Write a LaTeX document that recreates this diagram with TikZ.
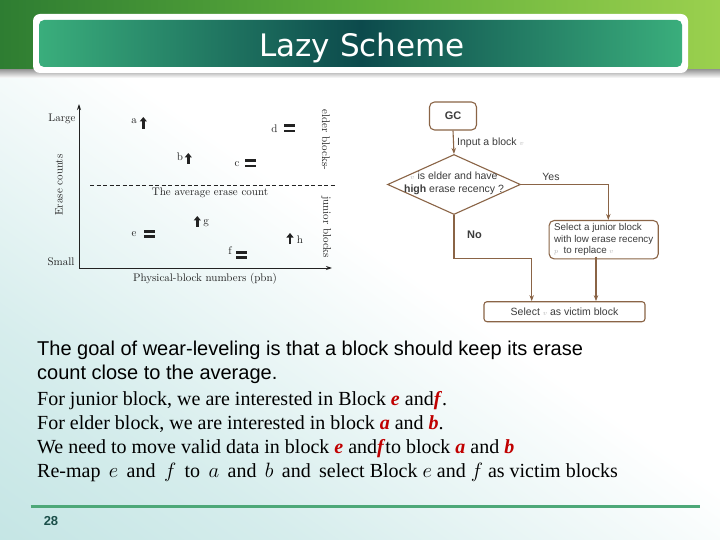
\documentclass[tikz,border=0pt]{standalone}
\usepackage{fontspec}
\setmainfont{Liberation Serif}
\setsansfont{Liberation Sans}
\newfontfamily\titlefont{DejaVu Sans}
\newfontfamily\lmfont{Latin Modern Roman}
\usetikzlibrary{arrows.meta,shapes.geometric,calc}
\definecolor{bannerdark}{HTML}{2E7D32}
\definecolor{bannermid}{HTML}{5FAE3A}
\definecolor{bannerlight}{HTML}{9BD04E}
\definecolor{tealedge}{HTML}{3AAE7C}
\definecolor{tealdark}{HTML}{0C4A4C}
\definecolor{flowline}{HTML}{8A6446}
\definecolor{flowtext}{HTML}{3C3C3C}
\definecolor{footgreen}{HTML}{4DA878}
\definecolor{pagenum}{HTML}{1B4F4A}
\definecolor{redletter}{HTML}{C00000}
\definecolor{bgcyan}{HTML}{B4DEDD}
\definecolor{chartink}{HTML}{222222}
\pgfdeclareverticalshading{bgshade}{100bp}{color(0bp)=(bgcyan); color(30bp)=(bgcyan!55!white); color(55bp)=(white); color(100bp)=(white)}
\newcommand\gapsp{\hspace{8.4pt}}
\begin{document}
\begin{tikzpicture}[x=1pt,y=-1pt,
  chartlbl/.style={font=\lmfont\fontsize{11}{13}\selectfont, text=chartink, inner sep=0},
  upmark/.style={line width=2.4pt, -{Triangle[length=4.5pt,width=7pt]}, chartink},
  fline/.style={draw=flowline, line width=1.1pt},
  farrow/.style={fline, -{Stealth[length=6pt,width=4.5pt]}},
  fbox/.style={draw=flowline, line width=1.1pt, rounded corners=5pt, fill=white, text=flowtext, font=\sffamily\fontsize{10.5}{12}\selectfont},
  flbl/.style={text=flowtext, font=\sffamily\fontsize{10.5}{12}\selectfont, inner sep=0},
  bodysans/.style={anchor=base west, inner sep=0, font=\sffamily\fontsize{20}{24}\selectfont},
  bodyserif/.style={anchor=base west, inner sep=0, font=\rmfamily\fontsize{20}{24}\selectfont},
  eqmark/.pic={\fill[chartink] (-5.5,-4) rectangle (5.5,-1.2); \fill[chartink] (-5.5,1.2) rectangle (5.5,4);}
]
\useasboundingbox (0,0) rectangle (720,540);
% background
\fill[white] (0,0) rectangle (720,540);
\shade[shading=bgshade, shading angle=-35] (0,75) rectangle (720,540);
% banner
\shade[left color=bannerdark, right color=bannerlight, middle color=bannermid] (0,0) rectangle (720,70);
\shade[top color=gray!75, bottom color=white] (0,70) rectangle (720,78);
% title box
\fill[white, rounded corners=7pt] (33,14) rectangle (688,73);
\shade[left color=tealedge, right color=tealedge, middle color=tealdark, rounded corners=5pt] (39,20) rectangle (682,67);
\node[font=\titlefont\fontsize{31}{36}\selectfont, text=white] (title) at (362,48) {Lazy Scheme};

% ---------- chart ----------
\coordinate (origin) at (79,268);
\coordinate (ytop) at (79,104);
\coordinate (xend) at (332,268);
\draw[chartink, line width=0.9pt, -{Stealth[length=6pt,width=4pt]}] (origin) -- (ytop);
\draw[chartink, line width=0.9pt, -{Stealth[length=6pt,width=4pt]}] (origin) -- (xend);
\coordinate (dashl) at (90,185);
\coordinate (dashr) at (335,185);
\draw[chartink, line width=0.8pt, dash pattern=on 4pt off 2.5pt] (dashl) -- (dashr);
\node[chartlbl] (large) at (62,119) {Large};
\node[chartlbl] (small) at (61,262) {Small};
\node[chartlbl, rotate=90] (erase) at (59,185) {Erase counts};
\node[chartlbl] (avg) at (210,193) {The average erase count};
\node[chartlbl] (pbn) at (205,279) {Physical-block numbers (pbn)};
\node[chartlbl, rotate=-90] (elder) at (326,140) {elder blocks-};
\node[chartlbl, rotate=-90] (junior) at (326,227) {junior blocks};
% blocks
\node[chartlbl] (la) at (134,121) {a};
\draw[upmark] (143.3,129) -- (143.3,117);
\node[chartlbl] (lb) at (180,157) {b};
\draw[upmark] (188.3,164) -- (188.3,153);
\node[chartlbl] (lc) at (237,164) {c};
\pic at (250,163.5) {eqmark};
\node[chartlbl] (ld) at (274.5,129) {d};
\pic at (289,128.5) {eqmark};
\node[chartlbl] (le) at (134,234) {e};
\pic at (149.5,234) {eqmark};
\node[chartlbl] (lg) at (206,223) {g};
\draw[upmark] (197.3,227) -- (197.3,216);
\node[chartlbl] (lf) at (230,251) {f};
\pic at (241.5,255) {eqmark};
\node[chartlbl] (lh) at (300,239.5) {h};
\draw[upmark] (290,244) -- (290,233);

% ---------- flowchart ----------
\node[fbox, minimum width=47pt, minimum height=28pt, font=\sffamily\bfseries\fontsize{11}{13}\selectfont] (gc) at (453,116) {GC};
\node[draw=flowline, line width=1.1pt, diamond, minimum width=133pt, minimum height=60pt, inner sep=0, fill=white] (dec) at (454,184.5) {};
\node[flbl, align=center] (dectext) at (454,183) {{\color{gray!60}$\scriptstyle v$} is elder and have\\[1pt]\textbf{high} erase recency ?};
\node[fbox, minimum width=107pt, minimum height=34pt, align=left, inner xsep=5pt, font=\sffamily\fontsize{9.8}{11.3}\selectfont] (jbox) at (603.7,239.7) {Select a junior block\\with low erase recency\\{\color{gray!60}$\scriptstyle p$}\ \ to replace {\color{gray!60}$\scriptstyle v$}};
\node[fbox, rounded corners=3pt, minimum width=161pt, minimum height=20pt] (vbox) at (564.5,311.7) {Select {\color{gray!60}$\scriptstyle v$} as victim block};
\node[flbl, anchor=west] (input) at (457,142.5) {Input a block {\color{gray!60}$\scriptstyle v$}};
\node[flbl] (yes) at (551,176.5) {Yes};
\node[flbl, font=\sffamily\bfseries\fontsize{11}{13}\selectfont] (no) at (474.5,235) {No};
\draw[farrow] (gc.south) -- (dec.north);
\coordinate (yescorner) at (608.3,184.5);
\draw[farrow] (dec.east) -- (yescorner) -- (yescorner |- jbox.north);
\coordinate (nobend) at (454,258.3);
\coordinate (noend) at (531.7,258.3);
\draw[farrow] (dec.south) -- (nobend) -- (noend) -- (noend |- vbox.north);
\coordinate (jdown) at (596,256.7);
\draw[farrow, line width=1.8pt] (jdown) -- (jdown |- vbox.north);

% ---------- body text ----------
\node[bodysans] (t1) at (37,355) {The goal of wear-leveling is that a block should keep its erase};
\node[bodysans] (t2) at (37,379) {count close to the average.};
\node[bodyserif] (t3) at (37,405.5) {For junior block, we are interested in Block \textcolor{redletter}{\textbf{\textit{e}}} and\textcolor{redletter}{\textbf{\textit{f}}}.};
\node[bodyserif] (t4) at (37,429.3) {For elder block, we are interested in block \textcolor{redletter}{\textbf{\textit{a}}} and \textcolor{redletter}{\textbf{\textit{b}}}.};
\node[bodyserif] (t5) at (37,453.3) {We need to move valid data in block \textcolor{redletter}{\textbf{\textit{e}}} and\textcolor{redletter}{\textbf{\textit{f}}}to block \textcolor{redletter}{\textbf{\textit{a}}} and \textcolor{redletter}{\textbf{\textit{b}}}};
\node[bodyserif] (t6) at (37,477.7) {Re-map\gapsp$e$\gapsp and\gapsp$f$\gapsp to\gapsp$a$\gapsp and\gapsp$b$\gapsp and\gapsp select Block $e$ and $f$ as victim blocks};

% footer
\coordinate (footl) at (30.5,506.5);
\coordinate (footr) at (700,506.5);
\draw[footgreen, line width=3pt] (footl) -- (footr);
\node[font=\sffamily\bfseries\fontsize{13}{15}\selectfont, text=pagenum] (page) at (51,521.5) {28};
\end{tikzpicture}
\end{document}
